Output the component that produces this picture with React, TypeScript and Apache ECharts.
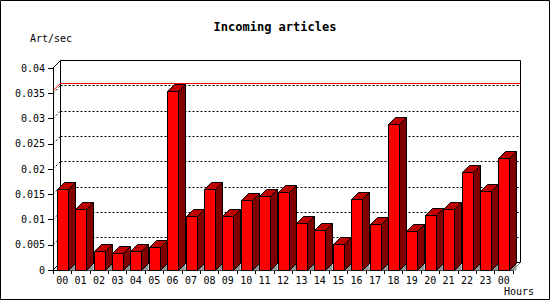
import React, { useEffect, useRef } from "react";
import * as echarts from "echarts";

const hours = ["00", "01", "02", "03", "04", "05", "06", "07", "08", "09", "10", "11", "12", "13", "14", "15", "16", "17", "18", "19", "20", "21", "22", "23", "00"];
const artPerSec = [0.016, 0.012, 0.0038, 0.0034, 0.0038, 0.0046, 0.0355, 0.0107, 0.016, 0.0107, 0.0139, 0.0147, 0.0154, 0.0093, 0.0079, 0.0052, 0.0141, 0.0091, 0.0289, 0.0077, 0.0109, 0.0121, 0.0194, 0.0156, 0.0222];
const yTicks = [0, 0.005, 0.01, 0.015, 0.02, 0.025, 0.03, 0.035, 0.04];
const yMin = 0;
const yMax = 0.04;
const yStep = 0.005;

const MONO = '"DejaVu Sans Mono", "Liberation Mono", monospace';
const DEPTH = 7;
const WALL = 7.5;
const BAR_W = 11;

export default function App() {
  const ref = useRef<HTMLDivElement>(null);

  useEffect(() => {
    if (!ref.current) return;
    const chart = echarts.init(ref.current, undefined, { renderer: "svg" });
    const maxV = Math.max(...artPerSec);
    const lastIdx = hours.length - 1;

    const edgeData: number[][] = yTicks.map((v) => [0, v, v === yMax || v === yMin ? 1 : 0]);
    edgeData.push([0, maxV, 2]);
    edgeData.push([lastIdx, yMin, 3]);

    const option: any = {
      animation: false,
      backgroundColor: "#ffffff",
      title: {
        text: "Incoming articles",
        left: "center",
        top: 21,
        padding: 0,
        textStyle: { fontFamily: MONO, fontSize: 12, fontWeight: "bold", color: "#000" },
      },
      grid: [
        { left: 53, right: 37, top: 68, bottom: 30, show: false },
        {
          left: 53 + WALL,
          right: 37 - WALL,
          top: 68 - WALL,
          bottom: 30 + WALL,
          show: true,
          borderColor: "#000000",
          borderWidth: 1,
          backgroundColor: "rgba(0,0,0,0)",
        },
      ],
      xAxis: [
        {
          type: "category",
          gridIndex: 0,
          data: hours,
          boundaryGap: true,
          axisLine: { show: true, lineStyle: { color: "#000", width: 1 } },
          axisTick: { show: true, length: 4, interval: 0, lineStyle: { color: "#000" } },
          axisLabel: { interval: 0, margin: 5, color: "#000", fontFamily: MONO, fontSize: 10 },
          splitLine: { show: false },
        },
        {
          type: "category",
          gridIndex: 1,
          data: hours,
          show: false,
        },
      ],
      yAxis: [
        {
          type: "value",
          gridIndex: 0,
          min: yMin,
          max: yMax,
          interval: yStep,
          axisLine: { show: true, lineStyle: { color: "#000", width: 1 } },
          axisTick: { show: true, length: 5, lineStyle: { color: "#000" } },
          axisLabel: {
            margin: 8,
            color: "#000",
            fontFamily: MONO,
            fontSize: 10,
            formatter: (v: number) => (v === 0 ? "0" : String(+v.toFixed(3))),
          },
          splitLine: { show: false },
        },
        {
          type: "value",
          gridIndex: 1,
          min: yMin,
          max: yMax,
          interval: yStep,
          axisLine: { show: false },
          axisTick: { show: false },
          axisLabel: { show: false },
          splitLine: { show: true, lineStyle: { color: "#000", width: 1, type: [2, 2] } },
        },
      ],
      graphic: [
        {
          type: "rect",
          shape: { x: 0.5, y: 0.5, width: 549, height: 299 },
          style: { fill: "none", stroke: "#000", lineWidth: 1 },
          z: 100,
        },
        {
          type: "text",
          x: 30,
          y: 38.5,
          style: {
            text: "Art/sec",
            font: `10px ${MONO}`,
            fill: "#000",
            textAlign: "left",
            textVerticalAlign: "middle",
            verticalAlign: "middle",
          },
        },
        {
          type: "text",
          x: 534,
          y: 291.5,
          style: {
            text: "Hours",
            font: `10px ${MONO}`,
            fill: "#000",
            textAlign: "right",
            textVerticalAlign: "middle",
            verticalAlign: "middle",
          },
        },
      ],
      series: [
        {
          type: "custom",
          name: "edges",
          xAxisIndex: 0,
          yAxisIndex: 0,
          data: edgeData,
          silent: true,
          z: 1,
          renderItem: (params: any, api: any) => {
            const idx = api.value(0);
            const v = api.value(1);
            const kind = api.value(2);
            const p = api.coord([idx, v]);
            const band = api.size([1, 0])[0];
            const x0 = kind === 3 ? p[0] + band / 2 : p[0] - band / 2;
            const y = p[1];
            let stroke = "#000";
            let lineDash: any = null;
            if (kind === 0) lineDash = [2, 2];
            if (kind === 2) stroke = "#ff0000";
            if (kind === 3) stroke = "#808080";
            const children: any[] = [
              {
                type: "line",
                shape: { x1: x0, y1: y, x2: x0 + WALL, y2: y - WALL },
                style: { stroke, lineWidth: 1, lineDash },
              },
            ];
            if (kind === 2) {
              const xr = api.coord([lastIdx, v])[0] + band / 2 + WALL;
              const yy = Math.round(y - WALL) + 0.5;
              children.push({
                type: "line",
                shape: { x1: x0 + WALL, y1: yy, x2: xr, y2: yy },
                style: { stroke: "#ff0000", lineWidth: 1 },
                z2: 5,
              });
            }
            return { type: "group", children };
          },
        },
        {
          type: "custom",
          name: "Art/sec",
          xAxisIndex: 0,
          yAxisIndex: 0,
          data: artPerSec.map((v, i) => [i, v]),
          z: 3,
          renderItem: (params: any, api: any) => {
            const i = api.value(0);
            const v = api.value(1);
            const top = api.coord([i, v]);
            const base = api.coord([i, 0]);
            const L = Math.round(top[0] - BAR_W / 2) + 0.5;
            const R = L + BAR_W;
            const yt = Math.round(top[1]) + 0.5;
            const yb = Math.round(base[1]) + 0.5;
            const D = DEPTH;
            return {
              type: "group",
              children: [
                {
                  type: "polygon",
                  shape: { points: [[R, yb], [R + D, yb - D], [R + D, yb]] },
                  style: { fill: "#969696", stroke: "none" },
                },
                {
                  type: "polygon",
                  shape: { points: [[R, yt], [R + D, yt - D], [R + D, yb - D], [R, yb]] },
                  style: { fill: "#800000", stroke: "#000", lineWidth: 1 },
                },
                {
                  type: "polygon",
                  shape: { points: [[L, yt], [L + D, yt - D], [R + D, yt - D], [R, yt]] },
                  style: { fill: "#c00000", stroke: "#000", lineWidth: 1 },
                },
                {
                  type: "rect",
                  shape: { x: L, y: yt, width: BAR_W, height: yb - yt },
                  style: { fill: "#ff0000", stroke: "#000", lineWidth: 1 },
                },
              ],
            };
          },
        },
      ],
    };

    chart.setOption(option);
    return () => {
      chart.dispose();
    };
  }, []);

  return <div ref={ref} style={{ position: "absolute", left: 0, top: 0, width: 550, height: 300 }} />;
}
